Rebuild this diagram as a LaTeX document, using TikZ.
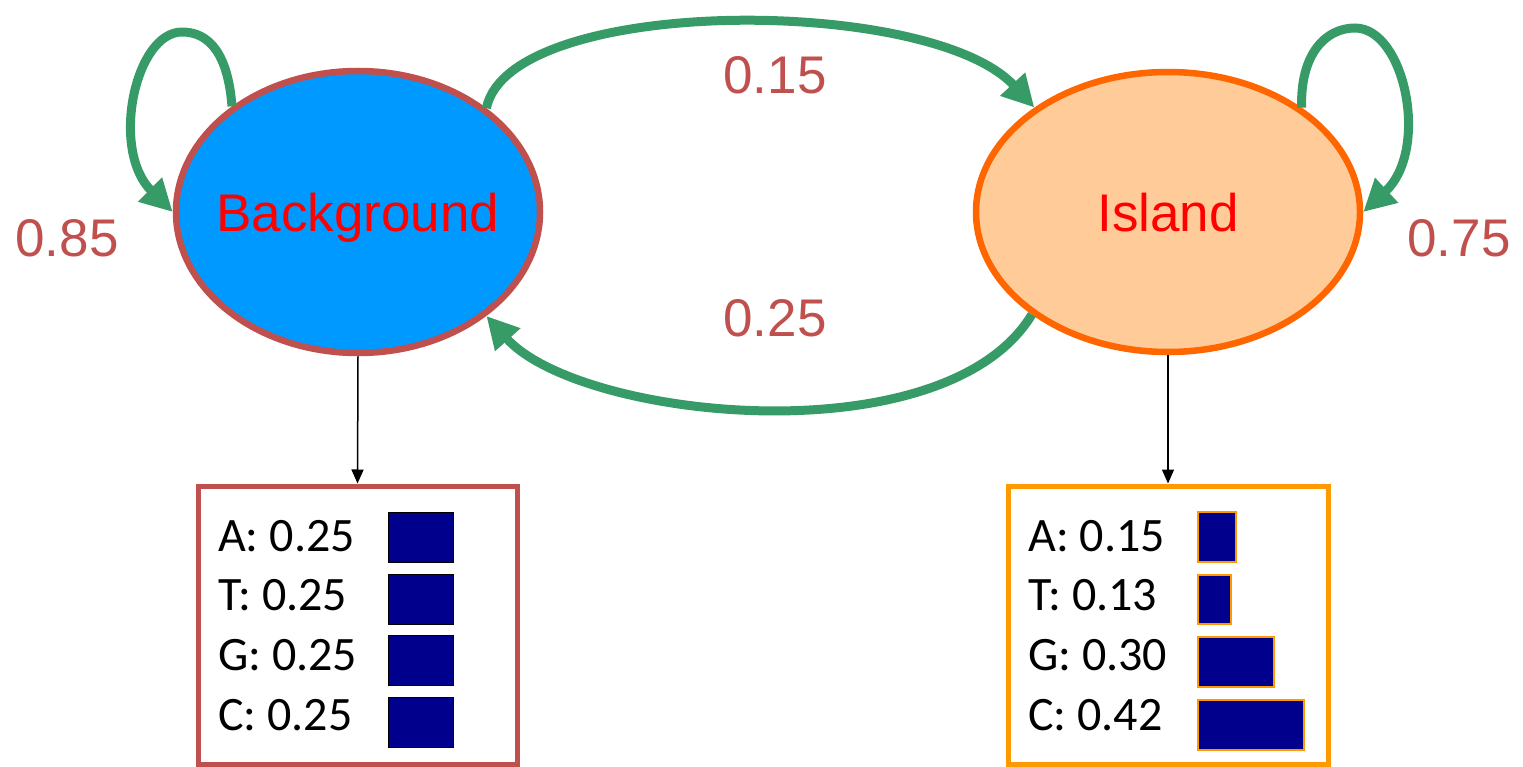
\documentclass[tikz,border=0pt]{standalone}
\usepackage{fontspec}
\setmainfont{Liberation Sans}
\newfontfamily\calfont{Carlito}
\usetikzlibrary{arrows.meta,shapes.geometric}
\definecolor{bgblue}{HTML}{0099FF}
\definecolor{bgborder}{HTML}{C0504D}
\definecolor{islfill}{HTML}{FFCC99}
\definecolor{islborder}{HTML}{FF6600}
\definecolor{islbox}{HTML}{FF9900}
\definecolor{arrgreen}{HTML}{379B68}
\definecolor{barblue}{HTML}{00008C}
\definecolor{probred}{HTML}{C0504D}
\tikzset{
  state/.style={ellipse, draw, line width=6.5pt, inner sep=0pt},
  statetext/.style={text=red, inner sep=0pt,
    font=\fontsize{53}{60}\selectfont, text depth=0pt},
  trans/.style={draw=arrgreen, line width=9pt,
    -{Triangle[length=32pt,width=32pt]}},
  prob/.style={text=probred, font=\fontsize{53}{60}\selectfont, inner sep=0pt},
  emitbox/.style={rectangle, draw, line width=5pt, inner sep=0pt,
    minimum height=278pt},
  emit/.style={-{Triangle[length=14pt,width=12pt]}, line width=1.5pt, black},
  rowtext/.style={anchor=base west, inner sep=0pt,
    font=\calfont\fontsize{48}{56}\selectfont},
  bgbar/.style={fill=barblue, draw=black, line width=1pt},
  islbar/.style={fill=barblue, draw=islbox, line width=1.5pt}
}
\begin{document}
\begin{tikzpicture}[x=1pt,y=-1pt]
\useasboundingbox (0,0) rectangle (1523,767);
% states
\node[state, fill=bgblue, draw=bgborder, minimum width=364pt, minimum height=282pt] (bg) at (358,212) {};
\node[statetext] (bgt) at (bg.center) {Background};
\node[state, fill=islfill, draw=islborder, minimum width=384pt, minimum height=280pt] (isl) at (1168,212) {};
\node[statetext] (islt) at (isl.center) {Island};
% transitions
\draw[trans] (bg.39) .. controls (510,-5) and (930,-5) .. (isl.142);
\draw[trans] (isl.217) .. controls (945,458) and (580,420) .. (bg.321);
\draw[trans] (bg.140) .. controls (228,55) and (210,32) .. (182,32)
  .. controls (135,32) and (110,150) .. (bg.west);
\draw[trans] (isl.38) .. controls (1300,55) and (1325,28) .. (1355,28)
  .. controls (1405,28) and (1430,150) .. (isl.east);
% probabilities
\node[prob] (p15) at (775,75) {0.15};
\node[prob] (p25) at (775,318) {0.25};
\node[prob] (p85) at (67,238) {0.85};
\node[prob] (p75) at (1459,238) {0.75};
% emission boxes
\node[emitbox, draw=bgborder, minimum width=319pt] (bgbox) at (357.5,625) {};
\node[emitbox, draw=islbox, minimum width=320pt] (islbox) at (1168,625) {};
\draw[emit] (bg.south) -- (bgbox.north);
\draw[emit] (isl.south) -- (islbox.north);
% background emissions
\node[rowtext] (bga) at (218,551) {A: 0.25};
\node[rowtext] (bgtt) at (218,610) {T: 0.25};
\node[rowtext] (bgg) at (218,670) {G: 0.25};
\node[rowtext] (bgc) at (218,730) {C: 0.25};
\draw[bgbar] (388,512) rectangle (453,562);
\draw[bgbar] (388,574) rectangle (453,624);
\draw[bgbar] (388,635) rectangle (453,685);
\draw[bgbar] (388,697) rectangle (453,747);
% island emissions
\node[rowtext] (isa) at (1028,551) {A: 0.15};
\node[rowtext] (ist) at (1028,610) {T: 0.13};
\node[rowtext] (isg) at (1028,670) {G: 0.30};
\node[rowtext] (isc) at (1028,730) {C: 0.42};
\draw[islbar] (1198,512) rectangle (1236,562);
\draw[islbar] (1198,575) rectangle (1231,624);
\draw[islbar] (1198,637) rectangle (1274,687);
\draw[islbar] (1198,700) rectangle (1304,750);
\end{tikzpicture}
\end{document}
